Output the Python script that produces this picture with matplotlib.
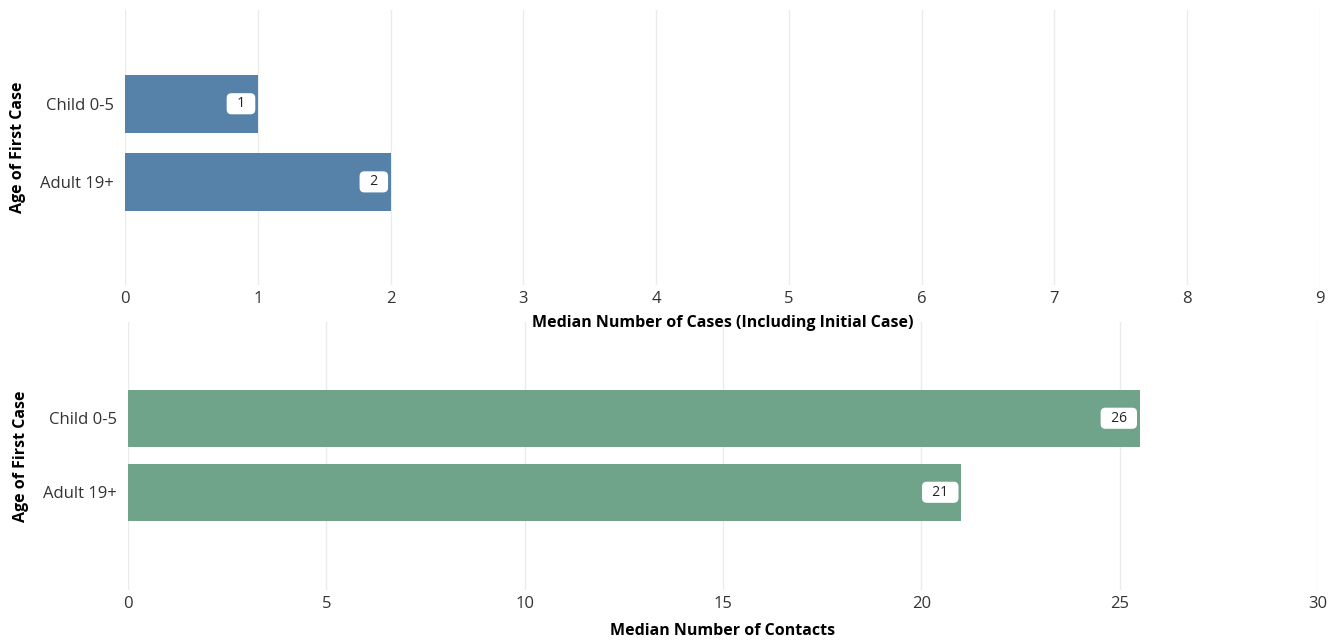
import matplotlib
matplotlib.use("Agg")
import matplotlib.pyplot as plt

plt.rcParams['font.family'] = ['Open Sans', 'DejaVu Sans']

categories = ["Child 0-5", "Adult 19+"]
cases = [1, 2]
contacts = [25.5, 21]
case_ticks = list(range(0, 10))
contact_ticks = [0, 5, 10, 15, 20, 25, 30]

W, H = 1340, 640
fig = plt.figure(figsize=(W / 100, H / 100), dpi=100)

def px_axes(x0, x1, y0, y1):
    return fig.add_axes([x0 / W, 1 - y1 / H, (x1 - x0) / W, (y1 - y0) / H])

def draw(ax, vals, ticks, xmax, color, xlabel, height, ylim, labpad):
    ax.patch.set_visible(False)
    ypos = list(range(len(categories)))
    ax.barh(ypos, vals, height=height, color=color, zorder=2)
    ax.set_xlim(0, xmax)
    ax.set_ylim(*ylim)
    ax.set_yticks(ypos)
    ax.set_yticklabels(categories, fontsize=12, color='#333333')
    ax.set_xticks(ticks)
    ax.set_xticklabels([str(t) for t in ticks], fontsize=12, color='#333333')
    ax.tick_params(axis='x', length=0, pad=4)
    ax.tick_params(axis='y', length=0, pad=8)
    ax.grid(axis='x', color='#ebebeb', linewidth=1, zorder=0)
    for s in ax.spines.values():
        s.set_visible(False)
    ax.set_xlabel(xlabel, fontsize=11.5, fontweight='bold', labelpad=labpad)
    ax.set_ylabel("Age of First Case", fontsize=11.5, fontweight='bold', labelpad=10)
    for y, v in zip(ypos, vals):
        ax.annotate(f"  {int(v + 0.5)}  ", xy=(v, y), xytext=(-4.0, 0), textcoords='offset points',
                    ha='right', va='center', fontsize=10, color='#222222',
                    bbox=dict(boxstyle='round,pad=0.22,rounding_size=0.35', fc='white', ec='none'),
                    zorder=3)

ax1 = px_axes(125, 1320, 10, 285)
draw(ax1, cases, case_ticks, 9, '#5682a9', "Median Number of Cases (Including Initial Case)",
     0.74, (2.32, -1.2), 6)

ax2 = px_axes(128, 1318, 322, 590)
draw(ax2, contacts, contact_ticks, 30, '#6fa38a', "Median Number of Contacts",
     0.77, (2.32, -1.3), 8)

fig.savefig("out.png", dpi=100, facecolor='white')
